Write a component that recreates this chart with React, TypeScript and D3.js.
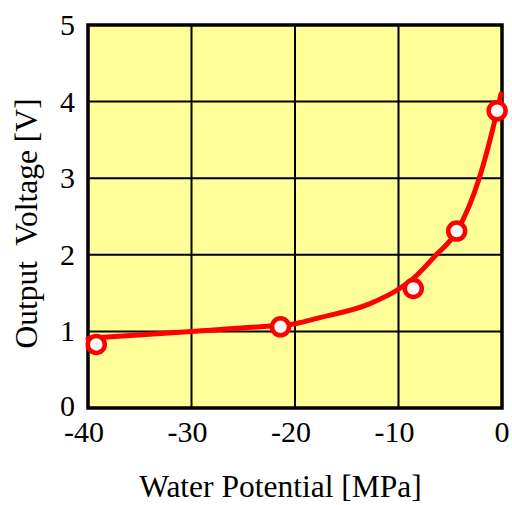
import React from "react";
import * as d3 from "d3";

const xTicks = [-40, -30, -20, -10, 0];
const yTicks = [0, 1, 2, 3, 4, 5];
// measured points (markers)
const pointX = [-39.2, -21.4, -8.57, -4.38, -0.47];
const pointY = [0.83, 1.06, 1.56, 2.31, 3.88];
// fitted curve
const curveX = [-40, -30, -23.4, -20, -17.6, -12.8, -10, -8.5, -6.5, -4.3, -2.2, -0.47, -0.1];
const curveY = [0.91, 1.0, 1.06, 1.1, 1.18, 1.36, 1.55, 1.7, 1.98, 2.32, 3.0, 3.88, 4.1];

const W = 512, H = 505;
const left = 88, right = 502, top = 25, bottom = 408;
const FONT = "'Liberation Serif', 'Times New Roman', serif";

export default function App() {
  const x = d3.scaleLinear().domain([-40, 0]).range([left, right]);
  const y = d3.scaleLinear().domain([0, 5]).range([bottom, top]);
  const line = d3
    .line<number>()
    .x((_, i) => x(curveX[i]))
    .y((d) => y(d))
    .curve(d3.curveMonotoneX);
  return (
    <svg width={W} height={H} style={{ position: "absolute", left: 0, top: 0 }}>
      <rect x={left} y={top} width={right - left} height={bottom - top} fill="#ffff99" />
      {xTicks.slice(1, -1).map((t) => (
        <line key={"gx" + t} x1={x(t)} x2={x(t)} y1={top} y2={bottom} stroke="#000" strokeWidth={2} />
      ))}
      {yTicks.slice(1, -1).map((t) => (
        <line key={"gy" + t} x1={left} x2={right} y1={y(t)} y2={y(t)} stroke="#000" strokeWidth={2} />
      ))}
      <rect x={left} y={top} width={right - left} height={bottom - top} fill="none" stroke="#000" strokeWidth={3.5} />
      <path d={line(curveY) || ""} fill="none" stroke="#ff0000" strokeWidth={5} strokeLinecap="round" />
      {pointX.map((px, i) => (
        <circle key={i} cx={x(px)} cy={y(pointY[i])} r={8.5} fill="#fff" stroke="#ff0000" strokeWidth={4.5} />
      ))}
      {yTicks.map((t) => (
        <text key={"ty" + t} x={75} y={y(t)} dy={t === 0 ? "0.28em" : "0.33em"} textAnchor="end" fontFamily={FONT} fontSize={30} fill="#000">
          {t}
        </text>
      ))}
      {xTicks.map((t) => (
        <text key={"tx" + t} x={x(t) + (t < 0 ? -4 : 0)} y={442} textAnchor="middle" fontFamily={FONT} fontSize={30} fill="#000">
          {t}
        </text>
      ))}
      <text x={280.5} y={497} textAnchor="middle" fontFamily={FONT} fontSize={31.5} fill="#000">
        Water Potential [MPa]
      </text>
      <text
        transform={`translate(37,223.5) rotate(-90)`}
        textAnchor="middle"
        fontFamily={FONT}
        fontSize={31.5}
        fill="#000"
        style={{ whiteSpace: "pre" }}
      >
        {"Output  Voltage [V]"}
      </text>
    </svg>
  );
}
